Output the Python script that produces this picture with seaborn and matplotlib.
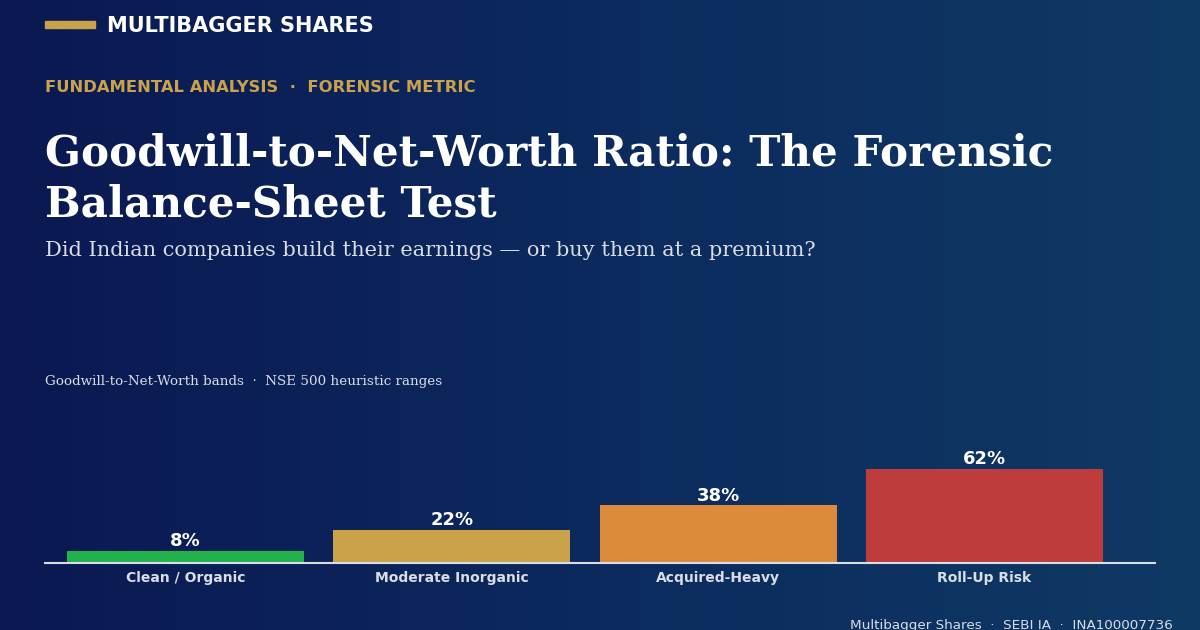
import numpy as np
import pandas as pd
import matplotlib
matplotlib.use("Agg")
import matplotlib.pyplot as plt
import seaborn as sns
from matplotlib.colors import LinearSegmentedColormap

# data
bands = ["Clean / Organic", "Moderate Inorganic", "Acquired-Heavy", "Roll-Up Risk"]
ratio_pct = [8, 22, 38, 62]
bar_colors = ["#22b24c", "#c9a24a", "#dc8a3c", "#be3c3c"]

GOLD = "#c9a24a"
LIGHT = "#d9dde6"

sns.set_theme(style="white")
plt.rcParams["font.family"] = ["DejaVu Sans"]

fig = plt.figure(figsize=(12, 6.3), dpi=100)

# background gradient
bg = fig.add_axes([0, 0, 1, 1], zorder=-10)
grad = np.linspace(0, 1, 256).reshape(1, -1)
cmap = LinearSegmentedColormap.from_list("bg", ["#0b1852", "#0c2a5e", "#0f3a64"])
bg.imshow(grad, aspect="auto", cmap=cmap, extent=[0, 1, 0, 1])
bg.set_axis_off()

# header
fig.patches.append(plt.Rectangle((45 / 1200, 1 - 28 / 630), 50 / 1200, 7 / 630,
                                 transform=fig.transFigure, color=GOLD))
fig.text(107 / 1200, 1 - 26 / 630, "MULTIBAGGER SHARES", color="white",
         fontsize=15, fontweight="bold", va="center")
fig.text(45 / 1200, 1 - 87 / 630, "FUNDAMENTAL ANALYSIS  \u00b7  FORENSIC METRIC",
         color=GOLD, fontsize=11.8, fontweight="bold", va="center")
fig.text(45 / 1200, 1 - 153 / 630, "Goodwill-to-Net-Worth Ratio: The Forensic",
         color="white", fontsize=30.3, fontweight="bold", family="DejaVu Serif", va="center")
fig.text(45 / 1200, 1 - 205 / 630, "Balance-Sheet Test",
         color="white", fontsize=30.3, fontweight="bold", family="DejaVu Serif", va="center")
fig.text(45 / 1200, 1 - 251 / 630,
         "Did Indian companies build their earnings \u2014 or buy them at a premium?",
         color=LIGHT, fontsize=15, family="DejaVu Serif", va="center")
fig.text(45 / 1200, 1 - 381 / 630,
         "Goodwill-to-Net-Worth bands  \u00b7  NSE 500 heuristic ranges",
         color=LIGHT, fontsize=9.7, family="DejaVu Serif", va="center")

# bars
ax = fig.add_axes([45 / 1200, 1 - 563 / 630, 1110 / 1200, 150 / 630])
df = pd.DataFrame({"band": bands, "pct": ratio_pct})
sns.barplot(data=df, x="band", y="pct", hue="band", palette=bar_colors,
            width=0.89, legend=False, ax=ax, saturation=1, linewidth=0)
ax.set_xlim(-0.527, 3.64)
ax.set_ylim(0, 150 / 1.516)
ax.set_facecolor("none")
for s in ["top", "right", "left"]:
    ax.spines[s].set_visible(False)
ax.spines["bottom"].set_color(LIGHT)
ax.spines["bottom"].set_linewidth(1.5)
ax.set_yticks([])
ax.set_xlabel("")
ax.set_ylabel("")
ax.tick_params(axis="x", length=0, pad=6, colors=LIGHT, labelsize=10)
for lbl in ax.get_xticklabels():
    lbl.set_fontweight("bold")
for i, v in enumerate(ratio_pct):
    ax.text(i, v + 0.4, f"{v}%", ha="center", va="bottom", color="white",
            fontsize=13, fontweight="bold")

fig.text(1173 / 1200, 1 - 625 / 630,
         "Multibagger Shares  \u00b7  SEBI IA  \u00b7  INA100007736",
         color=LIGHT, fontsize=9.7, ha="right", va="center")

fig.savefig("out.png", dpi=100)
